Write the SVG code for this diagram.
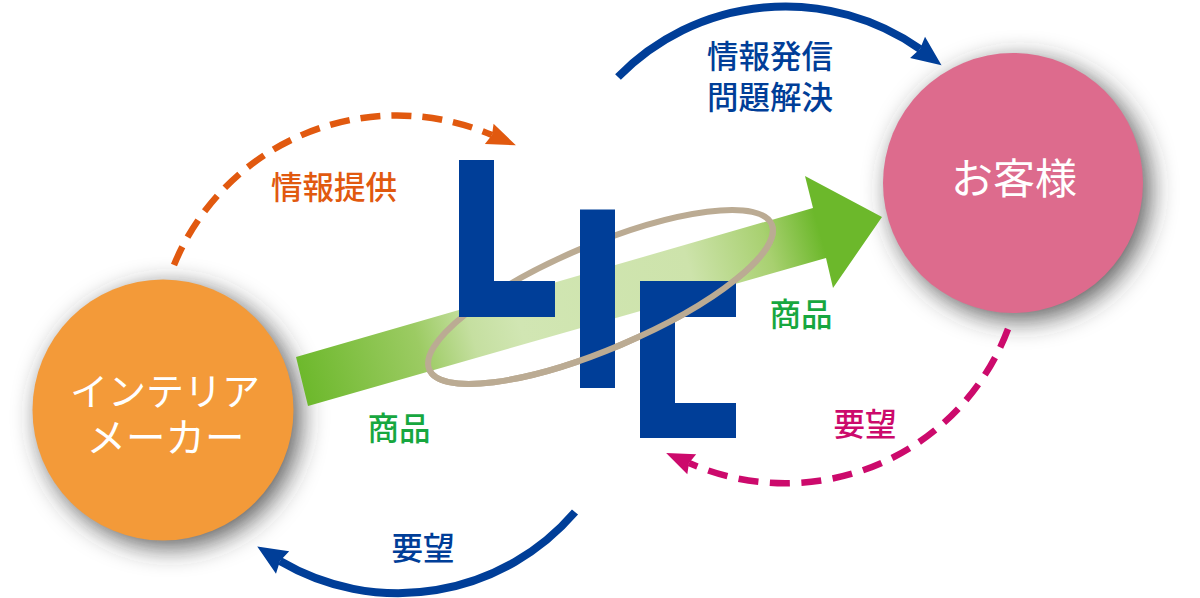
<svg xmlns="http://www.w3.org/2000/svg" width="1200" height="598" viewBox="0 0 1200 598">
<style>
text{font-family:"Noto Sans CJK JP","Noto Sans",sans-serif;text-anchor:middle}
.lbl{font-size:31.500px;font-weight:500}
.node{font-size:38px;fill:#fff}
.blue{fill:#003e98}
.arc{fill:none}
.solid{stroke:#003e98;stroke-width:8}
.dash{stroke-width:6.5}
.ring{fill:none;stroke:#bbab93;stroke-width:6}
.shadow{fill:#333;fill-opacity:.8}
</style>
<defs>
<filter id="sh" x="-30%" y="-30%" width="170%" height="170%"><feGaussianBlur stdDeviation="13"/></filter>
<linearGradient id="flow" gradientUnits="userSpaceOnUse" x1="300" y1="383" x2="820" y2="233">
<stop offset="0" stop-color="#6cb82b"/><stop offset=".23" stop-color="#9ccb63"/><stop offset=".33" stop-color="#c5dfa0"/><stop offset=".42" stop-color="#d1e6b3"/><stop offset=".75" stop-color="#cde3ab"/><stop offset=".9" stop-color="#a8d070"/><stop offset="1" stop-color="#6cb82b"/>
</linearGradient>
<marker id="hb" markerUnits="userSpaceOnUse" overflow="visible" orient="auto" markerWidth="30" markerHeight="30"><path d="M-3 -13 L27 1 L-3 13 L0 0Z" fill="#003e98"/></marker>
<marker id="ho" markerUnits="userSpaceOnUse" overflow="visible" orient="auto" markerWidth="30" markerHeight="30"><path d="M-3 -11 L26 0 L-3 11 L0 0Z" fill="#e1590f"/></marker>
<marker id="hm" markerUnits="userSpaceOnUse" overflow="visible" orient="auto" markerWidth="30" markerHeight="30"><path d="M-3 -11 L25 0 L-3 11 L0 0Z" fill="#cc0a6c"/></marker>
</defs>
<rect width="1200" height="598" fill="#fff"/>
<g id="node-maker">
<circle class="shadow" cx="170" cy="417" r="130.500" filter="url(#sh)"/>
<circle cx="163" cy="410" r="130.500" fill="#f39a39"/>
<text class="node" x="165" y="405">インテリア<tspan x="165.500" y="452" style="font-size:39.500px">メーカー</tspan></text>
</g>
<g id="node-customer">
<circle class="shadow" cx="1020" cy="190" r="130" filter="url(#sh)"/>
<circle cx="1013" cy="183" r="130" fill="#dd6b8d"/>
<text class="node" x="1014" y="194" style="font-size:42px">お客様</text>
</g>
<g id="connectors">
<polygon id="flow-arrow" points="296,357 813,208 805,176 882,217 833,288 826,258 308,406" fill="url(#flow)"/>
<path class="arc solid" marker-end="url(#hb)" d="M618 77A234 234 0 0 1 920 49"/>
<path class="arc solid" marker-end="url(#hb)" d="M575 512A233 233 0 0 1 280 561"/>
<path class="arc dash" stroke="#e1590f" stroke-dasharray="20 11" marker-end="url(#ho)" d="M174 265A241 241 0 0 1 492 135"/>
<path class="arc dash" stroke="#cc0a6c" stroke-dasharray="20 11.500" marker-end="url(#hm)" d="M1008 329A238 238 0 0 1 689 463"/>
</g>
<g id="node-lic">
<ellipse class="ring" cx="600.500" cy="297" rx="186" ry="52" transform="rotate(-23 600.500 297)"/>
<path class="blue" d="M459 160H494V281H555V317H459Z"/>
<rect class="blue" x="580" y="209.500" width="35" height="178.500"/>
<path class="blue" d="M640 281H736V317H675V403H736V438H640Z"/>
<path class="ring" d="M-186 0A186 52 0 0 0 186 0" transform="translate(600.500 297) rotate(-23)"/>
</g>
<g id="labels">
<text class="lbl" x="770" y="68" fill="#003e98">情報発信<tspan x="770" y="109">問題解決</tspan></text>
<text class="lbl" x="334" y="199" fill="#e1590f">情報提供</text>
<text class="lbl" x="801" y="326" fill="#17a73f">商品</text>
<text class="lbl" x="399" y="440" fill="#17a73f">商品</text>
<text class="lbl" x="865" y="436" fill="#cc0a6c">要望</text>
<text class="lbl" x="423" y="560" fill="#003e98">要望</text>
</g>
</svg>
